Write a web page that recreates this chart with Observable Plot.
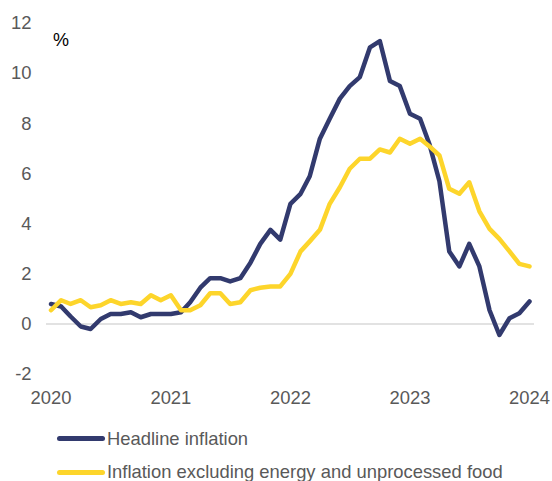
<!DOCTYPE html>
<html>
<head>
<meta charset="utf-8">
<script src="https://cdn.jsdelivr.net/npm/d3@7"></script>
<script src="https://cdn.jsdelivr.net/npm/@observablehq/plot@0.6"></script>
<style>
  html, body { margin: 0; padding: 0; background: #fff; }
  body { width: 552px; height: 481px; position: relative; overflow: hidden; font-family: "Liberation Sans", Arial, sans-serif; }
  #chart { position: absolute; left: 0; top: 0; }
  .pct { position: absolute; left: 53px; top: 31px; font-size: 18px; color: #000; line-height: 1; }
  .legend-row { position: absolute; left: 57px; height: 20px; display: flex; align-items: center; }
  .swatch { width: 48px; height: 5px; border-radius: 3px; margin-right: 2px; }
  .legend-row span { font-size: 18.4px; color: #595959; white-space: nowrap; }
</style>
</head>
<body>
<div id="chart"></div>
<div class="pct">%</div>
<div id="legend"></div>
<script>
const months = d3.utcMonths(new Date(Date.UTC(2020, 0, 1)), new Date(Date.UTC(2024, 1, 1)));
const headline = [
  0.8, 0.7, 0.3, -0.1, -0.2, 0.2, 0.4, 0.4, 0.47, 0.27, 0.4, 0.4,
  0.4, 0.47, 0.87, 1.45, 1.83, 1.83, 1.7, 1.83, 2.45, 3.2, 3.76, 3.37,
  4.8, 5.2, 5.9, 7.4, 8.2, 9.0, 9.5, 9.86, 11.05, 11.3, 9.7, 9.5,
  8.4, 8.2, 7.2, 5.7, 2.9, 2.3, 3.2, 2.3, 0.55, -0.44, 0.23, 0.43, 0.9
];
const core = [
  0.55, 0.95, 0.8, 0.95, 0.67, 0.75, 0.95, 0.8, 0.87, 0.8, 1.15, 0.95,
  1.15, 0.55, 0.55, 0.75, 1.23, 1.23, 0.8, 0.87, 1.35, 1.45, 1.5, 1.5,
  2.0, 2.9, 3.3, 3.76, 4.8, 5.46, 6.2, 6.6, 6.6, 6.97, 6.85, 7.4,
  7.2, 7.4, 7.1, 6.73, 5.4, 5.2, 5.66, 4.5, 3.8, 3.4, 2.9, 2.4, 2.3
];
const seriesNames = ["Headline inflation", "Inflation excluding energy and unprocessed food"];
const seriesColors = ["#323a6e", "#fdd52b"];
const yearTicks = [2020, 2021, 2022, 2023, 2024];
const yTicks = [-2, 0, 2, 4, 6, 8, 10, 12];

const rows = [];
months.forEach((d, i) => {
  rows.push({date: d, value: headline[i], series: seriesNames[0]});
});
months.forEach((d, i) => {
  rows.push({date: d, value: core[i], series: seriesNames[1]});
});

const chart = Plot.plot({
  width: 552,
  height: 410,
  marginTop: 23,
  marginBottom: 36.4,
  marginLeft: 46,
  marginRight: 18,
  style: {fontFamily: "'Liberation Sans', Arial, sans-serif", fontSize: "18.4px", color: "#595959", background: "#fff"},
  x: {
    type: "utc",
    domain: [new Date(Date.UTC(2020, 0, 1)), new Date(Date.UTC(2024, 0, 1))],
    insetLeft: 4.5,
    insetRight: 5,
    ticks: yearTicks.map(y => new Date(Date.UTC(y, 0, 1))),
    tickFormat: d3.utcFormat("%Y"),
    tickSize: 0,
    tickPadding: 16.5,
    label: null
  },
  y: {
    domain: [-2, 12],
    ticks: yTicks,
    tickFormat: d => String(d),
    tickSize: 0,
    tickPadding: 15,
    label: null
  },
  color: {domain: seriesNames, range: seriesColors},
  marks: [
    Plot.ruleY([0], {stroke: "#d9d9d9", strokeWidth: 1.5}),
    Plot.line(rows, {
      x: "date", y: "value", z: "series", stroke: "series",
      strokeWidth: 4.5, strokeLinejoin: "round", strokeLinecap: "round"
    })
  ]
});
document.getElementById("chart").appendChild(chart);

const legend = document.getElementById("legend");
seriesNames.forEach((name, i) => {
  const row = document.createElement("div");
  row.className = "legend-row";
  row.style.top = (428.7 + i * 33.6) + "px";
  const sw = document.createElement("div");
  sw.className = "swatch";
  sw.style.background = seriesColors[i];
  const tx = document.createElement("span");
  tx.textContent = name;
  row.appendChild(sw);
  row.appendChild(tx);
  legend.appendChild(row);
});
</script>
</body>
</html>
